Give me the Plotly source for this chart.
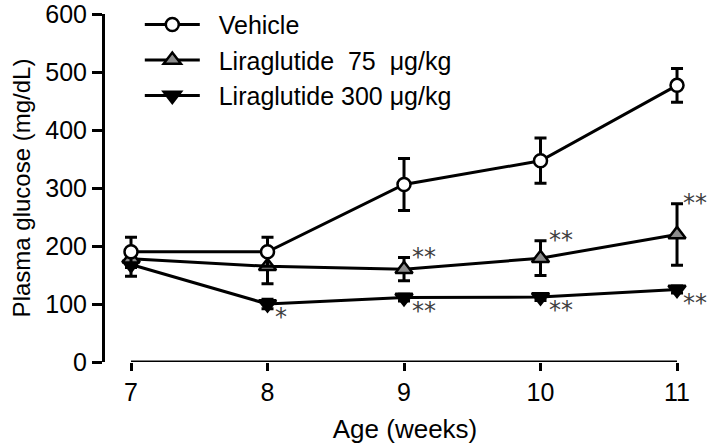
import plotly.graph_objects as go

weeks = [7, 8, 9, 10, 11]
vehicle = [190, 190, 306, 347, 477]
vehicle_sem = [25, 25, 45, 39, 29]
lira75 = [178, 165, 160, 179, 220]
lira75_sem = [15, 30, 20, 30, 53]
lira300 = [168, 100, 111, 112, 125]
lira300_sem = [20, 8, 6, 6, 6]

x_ticks = [7, 8, 9, 10, 11]
y_ticks = [0, 100, 200, 300, 400, 500, 600]

# significance marks
sig_weeks = [9, 10, 11, 8, 9, 10, 11]
sig_series = ["lira75", "lira75", "lira75", "lira300", "lira300", "lira300", "lira300"]
sig_labels = ["**", "**", "**", "*", "**", "**", "**"]

FONT = "Liberation Sans, Arial, sans-serif"
series_vals = {"vehicle": vehicle, "lira75": lira75, "lira300": lira300}
series_err = {"vehicle": vehicle_sem, "lira75": lira75_sem, "lira300": lira300_sem}

fig = go.Figure()

def add(name, key, symbol, fill, size, rank):
    fig.add_trace(go.Scatter(
        x=weeks, y=series_vals[key], name=name, mode="lines+markers",
        legendgroup=key, legendrank=rank,
        line=dict(color="black", width=3),
        marker=dict(symbol=symbol, size=size, color=fill, line=dict(color="black", width=2.5)),
        error_y=dict(type="data", array=series_err[key], color="black", thickness=3, width=6),
    ))

add("  Liraglutide 300 μg/kg", "lira300", "triangle-down", "black", 15, 3)
add("  Liraglutide  75  μg/kg", "lira75", "triangle-up", "#8c8c8c", 15, 2)
add("  Vehicle", "vehicle", "circle", "white", 13, 1)

SIG_FONT = dict(family="DejaVu Sans", size=24, color="#404040")
for wk, s, lab in zip(sig_weeks, sig_series, sig_labels):
    i = weeks.index(wk)
    v = series_vals[s][i]
    xs = 13 if lab == "*" else (18 if wk == 11 else 20)
    if s == "lira75":
        fig.add_annotation(x=wk, y=v + series_err[s][i], text=lab, showarrow=False,
                           xanchor="center", yanchor="middle", xshift=xs, yshift=1,
                           font=SIG_FONT)
    else:
        fig.add_annotation(x=wk, y=v, text=lab, showarrow=False,
                           xanchor="center", yanchor="middle", xshift=xs, yshift=-13,
                           font=SIG_FONT)

# x-axis baseline from first to last tick (offset axis style)
fig.add_shape(type="line", xref="x", yref="y", x0=x_ticks[0], x1=x_ticks[-1], y0=0, y1=0,
              line=dict(color="black", width=3))

fig.update_layout(
    width=709, height=444,
    margin=dict(l=105, r=4, t=14, b=82, autoexpand=False),
    plot_bgcolor="white", paper_bgcolor="white",
    font=dict(family=FONT, size=25, color="black"),
    showlegend=True,
    legend=dict(x=0.058, y=1.035, xanchor="left", yanchor="top", bgcolor="rgba(0,0,0,0)",
                font=dict(family=FONT, size=25), itemwidth=55, tracegroupgap=0),
    xaxis=dict(range=[6.8095, 11.205], tickvals=x_ticks, ticks="outside", ticklen=8,
               tickwidth=3, tickcolor="black", showline=False, showgrid=False, zeroline=False,
               tickfont=dict(size=25),
               title=dict(text="Age (weeks)", font=dict(size=26), standoff=18)),
    yaxis=dict(range=[0, 600], tickvals=y_ticks, ticks="outside", ticklen=10, tickwidth=3,
               tickcolor="black", showline=True, linewidth=3, linecolor="black",
               showgrid=False, zeroline=False, tickfont=dict(size=25),
               ticklabeloverflow="allow",
               title=dict(text="Plasma glucose (mg/dL)", font=dict(size=24), standoff=8)),
)

fig.write_html("out.html", config={"displayModeBar": False},
               post_script="document.body.style.margin='0px';document.body.style.overflow='hidden';")
